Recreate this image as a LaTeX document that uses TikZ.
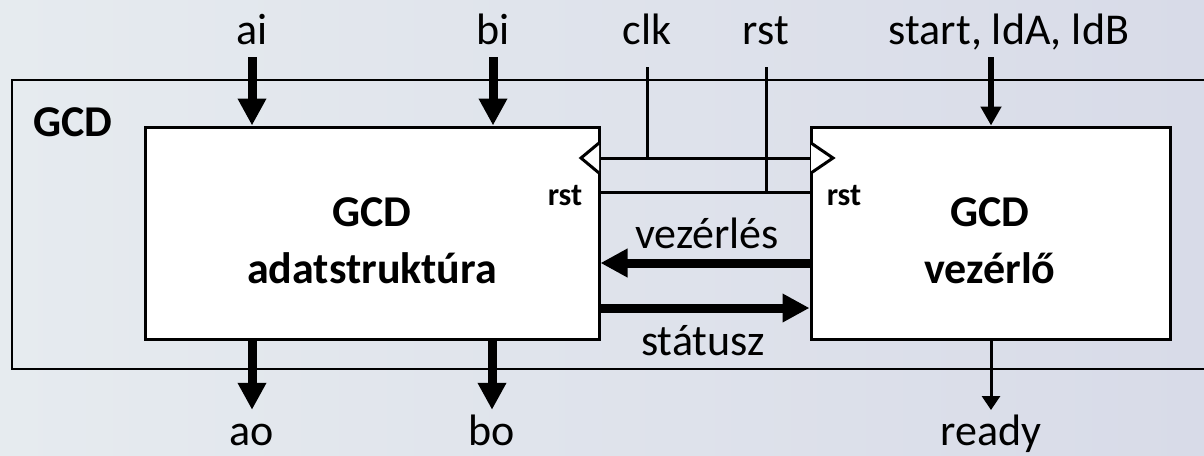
\documentclass[tikz,border=0pt]{standalone}
\usepackage{fontspec}
\setmainfont{Carlito}
\usetikzlibrary{arrows.meta}
\definecolor{bgL}{RGB}{230,235,239}
\definecolor{bgR}{RGB}{216,219,232}
\begin{document}
\begin{tikzpicture}[x=1pt,y=-1pt,
  lab/.style={font=\fontsize{44}{50}\selectfont, inner sep=0pt, anchor=base, text height=32pt, text depth=10pt},
  blab/.style={font=\fontsize{44}{57}\selectfont\bfseries, align=center, inner sep=0pt},
  slab/.style={font=\fontsize{32}{36}\selectfont\bfseries, inner sep=0pt, anchor=base},
  blk/.style={draw=black, line width=3pt, fill=white, inner sep=0pt, minimum height=212pt},
  bus/.style={line width=9pt, -{Triangle[width=27pt,length=27pt]}},
  mid/.style={line width=6pt, -{Triangle[width=20pt,length=19pt]}},
  sig/.style={line width=3pt, -{Triangle[width=18pt,length=14pt]}},
  wire/.style={line width=3pt},
  clkmark/.style={line width=3pt, fill=white, line join=miter},
]
\useasboundingbox (0,0) rectangle (1204,455);
\clip (0,0) rectangle (1204,455);
\shade[left color=bgL, right color=bgR] (0,0) rectangle (1204,455);

% outer box (runs past the right edge)
\draw[line width=2.5pt] (12,80) rectangle (1240,369);
\node[font=\fontsize{44}{50}\selectfont\bfseries, inner sep=0pt, anchor=base west] (gcd) at (33,136) {GCD};

% blocks
\node[blk, minimum width=454pt] (dp) at (372,233) {};
\node[blk, minimum width=359pt] (ctrl) at (990.5,233) {};
\node[blab] (dptext) at (372,241) {GCD\\adatstruktúra};
\node[blab] (ctrltext) at (990,241) {GCD\\vezérlő};

% clock marks
\draw[clkmark] (599,143) -- (581,158) -- (599,173);
\draw[clkmark] (811,143) -- (833,158) -- (811,173);

% inner rst labels
\node[slab] (rstL) at (565,205) {rst};
\node[slab] (rstR) at (844,205) {rst};

% top labels
\node[lab] (ai) at (252,44) {ai};
\node[lab] (bi) at (493,44) {bi};
\node[lab] (clk) at (647,44) {clk};
\node[lab] (rst) at (766,44) {rst};
\node[lab] (start) at (1009,44) {start, ldA, ldB};

% bottom labels
\node[lab] (ao) at (252,445) {ao};
\node[lab] (bo) at (492,445) {bo};
\node[lab] (ready) at (991,445) {ready};

% helper coordinates
\coordinate (ck) at (647,158);
\coordinate (rk) at (766,192);
\coordinate (stin) at (991,57);
\coordinate (rdout) at (991,410);

% inputs
\draw[bus, shorten <=3pt] (ai.south) -- (ai.south |- dp.north);
\draw[bus, shorten <=3pt] (bi.south) -- (bi.south |- dp.north);
\draw[mid] (stin) -- (stin |- ctrl.north);

% clock and reset
\draw[wire, shorten <=13pt] (clk.south) -- (clk.south |- ck);
\draw[wire] (dp.east |- ck) -- (ctrl.west |- ck);
\draw[wire, shorten <=13pt] (rst.south) -- (rst.south |- rk);
\draw[wire] (dp.east |- rk) -- (ctrl.west |- rk);

% control / status
\draw[bus] (ctrl.west |- 0,263) -- (dp.east |- 0,263);
\draw[bus] (dp.east |- 0,308) -- (ctrl.west |- 0,308);
\node[lab] (vez) at (707,248) {vezérlés};
\node[lab] (stat) at (703,355) {státusz};

% outputs
\draw[bus, shorten >=3pt] (dp.south -| ao.north) -- (ao.north);
\draw[bus, shorten >=3pt] (dp.south -| bo.north) -- (bo.north);
\draw[sig] (ctrl.south -| rdout) -- (rdout);
\end{tikzpicture}
\end{document}
